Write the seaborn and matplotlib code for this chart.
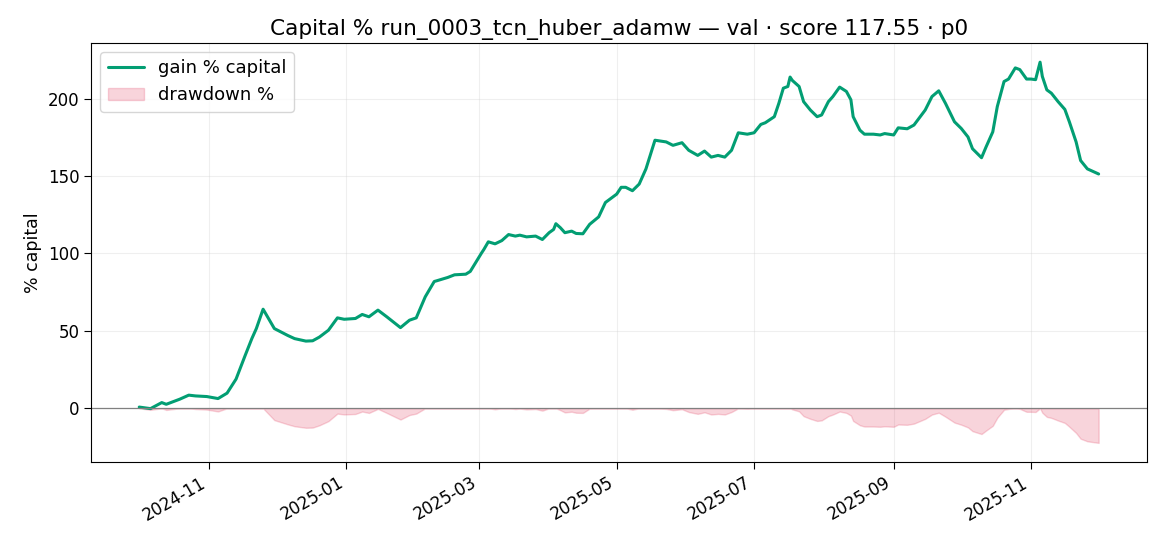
import numpy as np
import pandas as pd
import matplotlib
matplotlib.use('Agg')
import matplotlib.pyplot as plt
import seaborn as sns

# gain % capital at its turning points
dates = [
    '2024-10-01', '2024-10-06', '2024-10-11', '2024-10-13', '2024-10-19', '2024-10-23',
    '2024-10-26', '2024-10-31', '2024-11-05', '2024-11-09', '2024-11-13', '2024-11-17',
    '2024-11-20', '2024-11-22', '2024-11-25', '2024-11-30', '2024-12-06', '2024-12-09',
    '2024-12-14', '2024-12-17', '2024-12-20', '2024-12-24', '2024-12-28', '2024-12-31',
    '2025-01-05', '2025-01-08', '2025-01-11', '2025-01-15', '2025-01-19', '2025-01-25',
    '2025-01-29', '2025-02-01', '2025-02-05', '2025-02-09', '2025-02-10', '2025-02-15',
    '2025-02-18', '2025-02-23', '2025-02-25', '2025-03-02', '2025-03-03', '2025-03-05',
    '2025-03-08', '2025-03-11', '2025-03-14', '2025-03-17', '2025-03-19', '2025-03-22',
    '2025-03-26', '2025-03-29', '2025-04-01', '2025-04-03', '2025-04-04', '2025-04-06',
    '2025-04-08', '2025-04-11', '2025-04-13', '2025-04-16', '2025-04-19', '2025-04-23',
    '2025-04-26', '2025-05-01', '2025-05-03', '2025-05-05', '2025-05-08', '2025-05-11',
    '2025-05-14', '2025-05-18', '2025-05-23', '2025-05-26', '2025-05-30', '2025-06-02',
    '2025-06-06', '2025-06-09', '2025-06-12', '2025-06-15', '2025-06-18', '2025-06-21',
    '2025-06-24', '2025-06-28', '2025-07-01', '2025-07-04', '2025-07-06', '2025-07-10',
    '2025-07-12', '2025-07-14', '2025-07-16', '2025-07-17', '2025-07-18', '2025-07-21',
    '2025-07-23', '2025-07-26', '2025-07-29', '2025-07-31', '2025-08-03', '2025-08-05',
    '2025-08-08', '2025-08-11', '2025-08-13', '2025-08-14', '2025-08-17', '2025-08-19',
    '2025-08-23', '2025-08-26', '2025-08-28', '2025-09-01', '2025-09-03', '2025-09-07',
    '2025-09-10', '2025-09-15', '2025-09-18', '2025-09-21', '2025-09-24', '2025-09-28',
    '2025-10-01', '2025-10-04', '2025-10-06', '2025-10-10', '2025-10-12', '2025-10-15',
    '2025-10-17', '2025-10-20', '2025-10-22', '2025-10-25', '2025-10-27', '2025-10-30',
    '2025-11-01', '2025-11-03', '2025-11-05', '2025-11-06', '2025-11-08', '2025-11-10',
    '2025-11-13', '2025-11-16', '2025-11-18', '2025-11-21', '2025-11-23', '2025-11-26',
    '2025-12-01',
]
gain_pct = [
    0.8, -0.2, 3.7, 2.6, 5.9, 8.5,
    8.0, 7.6, 6.3, 9.8, 18.9, 34.0,
    45.0, 51.5, 64.0, 51.5, 47.0, 45.0,
    43.4, 43.6, 46.0, 50.4, 58.4, 57.5,
    58.0, 60.6, 59.1, 63.4, 59.0, 52.1,
    56.9, 58.4, 72.0, 81.9, 82.3, 84.5,
    86.2, 86.6, 88.4, 100.3, 102.5, 107.5,
    106.2, 108.3, 112.2, 111.2, 111.8, 110.7,
    111.2, 109.0, 113.4, 115.5, 119.2, 116.6,
    113.4, 114.4, 112.9, 112.7, 118.8, 123.6,
    132.9, 138.3, 142.7, 142.7, 140.5, 144.8,
    154.6, 173.1, 172.0, 169.8, 171.5, 166.6,
    163.3, 166.1, 162.2, 163.3, 162.2, 166.6,
    177.9, 177.0, 177.9, 183.3, 184.4, 188.3,
    196.9, 206.7, 207.8, 213.9, 211.7, 207.8,
    198.0, 192.6, 188.3, 189.4, 198.0, 201.3,
    207.4, 204.6, 199.2, 188.3, 179.6, 177.0,
    177.0, 176.5, 177.4, 176.5, 181.1, 180.5,
    182.9, 192.6, 201.3, 205.0, 196.9, 185.0,
    180.7, 175.2, 167.6, 161.8, 168.7, 178.5,
    194.8, 211.0, 212.6, 219.8, 218.7, 212.6,
    212.6, 212.2, 223.5, 214.3, 205.6, 203.5,
    198.0, 193.0, 185.0, 172.0, 160.0, 154.6,
    151.3,
]

run_name = 'run_0003_tcn_huber_adamw'
split = 'val'
score = 117.55

df = pd.DataFrame({'date': pd.to_datetime(dates), 'gain': gain_pct})
equity = 1 + df['gain'] / 100
df['drawdown'] = (equity / equity.cummax() - 1) * 100

sns.set_style('white', rc={
    'text.color': 'black', 'axes.labelcolor': 'black',
    'xtick.color': 'black', 'ytick.color': 'black', 'axes.edgecolor': 'black',
})
plt.rcParams['font.family'] = ['DejaVu Sans']

fig, ax = plt.subplots(figsize=(11.7, 5.46), dpi=100)

sns.lineplot(data=df, x='date', y='gain', ax=ax, color='#029e73', linewidth=2.2,
             label='gain % capital')
ax.fill_between(df['date'], df['drawdown'], 0, color='crimson', alpha=0.18,
                label='drawdown %')
ax.axhline(0, color='grey', linewidth=0.9)

ax.set_title(f'Capital % {run_name} \u2014 {split} \u00b7 score {score:.2f} \u00b7 p0', fontsize=15.6)
ax.set_ylabel('% capital', fontsize=12.5)
ax.set_xlabel('')
ax.tick_params(axis='both', labelsize=12, length=5, direction='out', left=True, bottom=True)
ax.grid(True, alpha=0.3)
ax.legend(loc='upper left', fontsize=13, edgecolor='#cccccc')
fig.autofmt_xdate()
fig.subplots_adjust(left=0.078, right=0.980, top=0.921, bottom=0.154)

plt.savefig('out.png', dpi=100)
